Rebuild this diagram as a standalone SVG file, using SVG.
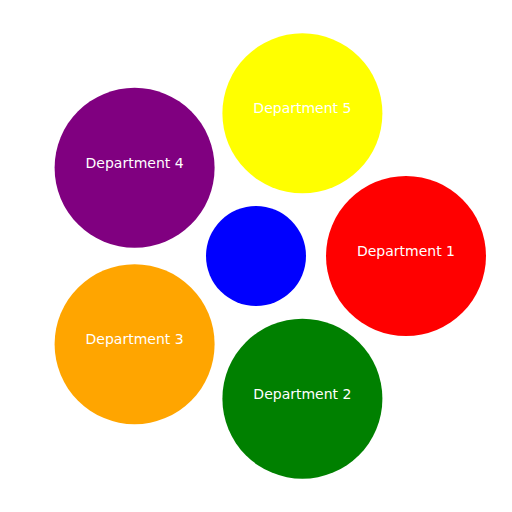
<svg xmlns="http://www.w3.org/2000/svg" width="512" height="512" viewBox="0 0 512 512">
<style>
.lbl{font-family:"DejaVu Sans",sans-serif;font-size:14px;fill:#ffffff;text-anchor:middle}
</style>
<rect width="512" height="512" fill="#ffffff"/>
<g id="connectors"></g>
<g id="center"><circle cx="256" cy="256" r="50" fill="#0000ff"/></g>
<g id="dept1"><circle cx="406" cy="256" r="80" fill="#ff0000"/><text class="lbl" x="406" y="256">Department 1</text></g>
<g id="dept2"><circle cx="302.4" cy="398.7" r="80" fill="#008000"/><text class="lbl" x="302.4" y="398.7">Department 2</text></g>
<g id="dept3"><circle cx="134.6" cy="344.2" r="80" fill="#ffa500"/><text class="lbl" x="134.6" y="344.2">Department 3</text></g>
<g id="dept4"><circle cx="134.6" cy="167.8" r="80" fill="#800080"/><text class="lbl" x="134.6" y="167.8">Department 4</text></g>
<g id="dept5"><circle cx="302.4" cy="113.3" r="80" fill="#ffff00"/><text class="lbl" x="302.4" y="113.3">Department 5</text></g>
</svg>
